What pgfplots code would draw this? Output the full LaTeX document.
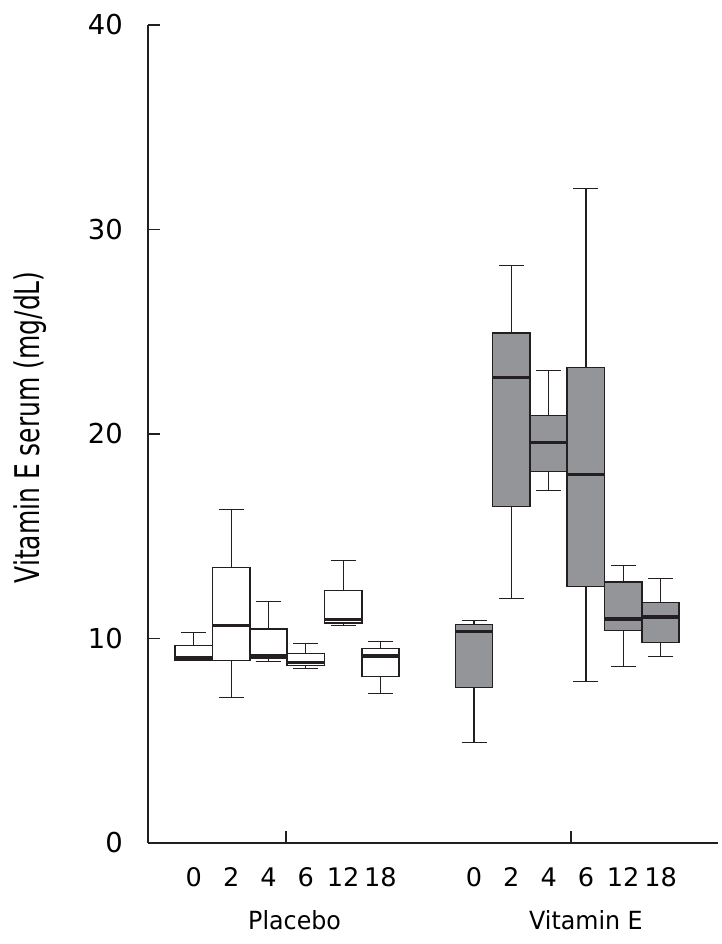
\documentclass[border=0pt]{standalone}
\usepackage{pgfplots}
\pgfplotsset{compat=1.18}
\usepgfplotslibrary{statistics}
\usepackage{graphicx}
\usepackage{fontspec}
\setmainfont{DejaVu Sans}
\definecolor{boxgray}{RGB}{147,149,152}
\definecolor{ink}{RGB}{35,31,32}
\newcommand\tl[1]{{\fontsize{25.6}{28}\selectfont #1}}
\newcommand\grp[1]{{\fontsize{25}{28}\selectfont\scalebox{0.95}[1]{#1}}}
\pgfplotsset{
  pl/.style={draw=ink, fill=white, line width=1.6pt,
    boxplot/draw direction=y,
    boxplot/every median/.style={line width=3.6pt, draw=ink},
    boxplot/every whisker/.style={line width=1.1pt, draw=ink}},
  ve/.style={draw=ink, fill=boxgray, line width=1.6pt,
    boxplot/draw direction=y,
    boxplot/every median/.style={line width=3.6pt, draw=ink},
    boxplot/every whisker/.style={line width=1.1pt, draw=ink}},
}
\begin{document}
\begin{tikzpicture}
\useasboundingbox (-148pt,-101pt) rectangle (574pt,843pt);
\begin{axis}[
  scale only axis, width=570pt, height=818pt,
  xmin=0, xmax=15.28, ymin=0, ymax=40,
  axis lines*=left,
  axis line style={line width=1.2pt, draw=ink},
  ytick={0,10,20,30,40},
  xtick={3.70,11.34},
  xticklabels={,},
  tick align=inside,
  major tick length=12pt,
  tick style={line width=1.2pt, draw=ink},
  /pgf/number format/assume math mode=true,
  yticklabel style={font=\fontsize{27.4}{30}\selectfont, anchor=east, inner sep=0pt, xshift=-25pt},
  ylabel={{\fontsize{34}{38}\selectfont\scalebox{0.735}[1]{Vitamin E serum (mg/dL)}}},
  every axis y label/.style={at={(axis description cs:-0.1895,0.508)}, rotate=90, anchor=base, inner sep=0pt},
  boxplot/draw direction=y,
  boxplot/box extend=1,
  boxplot/whisker extend=0.67,
  clip=false,
]
% Placebo
\addplot[pl, boxplot prepared={draw position=1.23, lower whisker=8.96, lower quartile=8.96, median=9.05, upper quartile=9.66, upper whisker=10.30}] coordinates {};
\addplot[pl, boxplot prepared={draw position=2.23, lower whisker=7.12, lower quartile=8.93, median=10.64, upper quartile=13.48, upper whisker=16.31}] coordinates {};
\addplot[pl, boxplot prepared={draw position=3.23, lower whisker=8.88, lower quartile=9.06, median=9.15, upper quartile=10.45, upper whisker=11.82}] coordinates {};
\addplot[pl, boxplot prepared={draw position=4.23, lower whisker=8.52, lower quartile=8.68, median=8.82, upper quartile=9.27, upper whisker=9.76}] coordinates {};
\addplot[pl, boxplot prepared={draw position=5.23, lower whisker=10.64, lower quartile=10.77, median=10.92, upper quartile=12.35, upper whisker=13.82}] coordinates {};
\addplot[pl, boxplot prepared={draw position=6.23, lower whisker=7.32, lower quartile=8.15, median=9.15, upper quartile=9.52, upper whisker=9.86}] coordinates {};
% Vitamin E
\addplot[ve, boxplot prepared={draw position=8.74, lower whisker=4.92, lower quartile=7.61, median=10.34, upper quartile=10.69, upper whisker=10.89}] coordinates {};
\addplot[ve, boxplot prepared={draw position=9.74, lower whisker=11.97, lower quartile=16.46, median=22.77, upper quartile=24.95, upper whisker=28.25}] coordinates {};
\addplot[ve, boxplot prepared={draw position=10.74, lower whisker=17.24, lower quartile=18.17, median=19.59, upper quartile=20.91, upper whisker=23.11}] coordinates {};
\addplot[ve, boxplot prepared={draw position=11.74, lower whisker=7.91, lower quartile=12.55, median=18.02, upper quartile=23.26, upper whisker=32.01}] coordinates {};
\addplot[ve, boxplot prepared={draw position=12.74, lower whisker=8.64, lower quartile=10.40, median=10.94, upper quartile=12.75, upper whisker=13.55}] coordinates {};
\addplot[ve, boxplot prepared={draw position=13.74, lower whisker=9.13, lower quartile=9.81, median=11.04, upper quartile=11.76, upper whisker=12.94}] coordinates {};
% category labels
\node[anchor=base, inner sep=0pt, yshift=-43pt] at (axis cs:1.23,0) {\tl{0}};
\node[anchor=base, inner sep=0pt, yshift=-43pt] at (axis cs:2.23,0) {\tl{2}};
\node[anchor=base, inner sep=0pt, yshift=-43pt] at (axis cs:3.23,0) {\tl{4}};
\node[anchor=base, inner sep=0pt, yshift=-43pt] at (axis cs:4.23,0) {\tl{6}};
\node[anchor=base, inner sep=0pt, yshift=-43pt] at (axis cs:5.23,0) {\tl{12}};
\node[anchor=base, inner sep=0pt, yshift=-43pt] at (axis cs:6.23,0) {\tl{18}};
\node[anchor=base, inner sep=0pt, yshift=-43pt] at (axis cs:8.74,0) {\tl{0}};
\node[anchor=base, inner sep=0pt, yshift=-43pt] at (axis cs:9.74,0) {\tl{2}};
\node[anchor=base, inner sep=0pt, yshift=-43pt] at (axis cs:10.74,0) {\tl{4}};
\node[anchor=base, inner sep=0pt, yshift=-43pt] at (axis cs:11.74,0) {\tl{6}};
\node[anchor=base, inner sep=0pt, yshift=-43pt] at (axis cs:12.74,0) {\tl{12}};
\node[anchor=base, inner sep=0pt, yshift=-43pt] at (axis cs:13.74,0) {\tl{18}};
\node[anchor=base, inner sep=0pt, yshift=-86pt] at (axis cs:3.93,0) {\grp{Placebo}};
\node[anchor=base, inner sep=0pt, yshift=-86pt] at (axis cs:11.74,0) {\grp{Vitamin E}};
\end{axis}
\end{tikzpicture}
\end{document}
